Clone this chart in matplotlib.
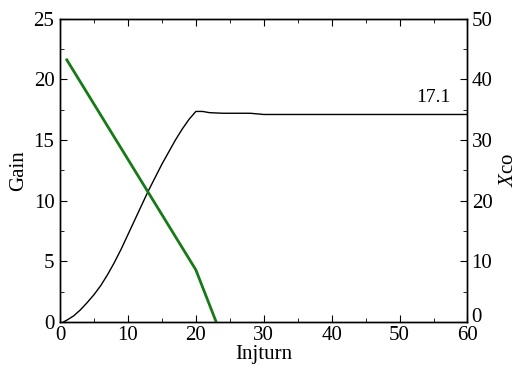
import numpy as np
import matplotlib
matplotlib.use("Agg")
import matplotlib.pyplot as plt
import matplotlib.transforms as mtransforms
from matplotlib.ticker import MultipleLocator

plt.rcParams['font.family'] = ['Liberation Serif', 'DejaVu Serif']
plt.rcParams['mathtext.fontset'] = 'custom'
plt.rcParams['mathtext.it'] = 'Liberation Serif:italic'
plt.rcParams['mathtext.rm'] = 'Liberation Serif'

# --- data ---
gain_x = [0.5, 1, 2, 3, 4, 5, 6, 7, 8, 9, 10, 11, 12, 13, 14, 15, 16, 17, 18, 19, 20,
          21, 22, 24, 26, 28, 30, 35, 40, 50, 60]
gain_y = [0.0, 0.15, 0.5, 1.0, 1.6, 2.25, 3.0, 3.9, 4.9, 6.0, 7.2, 8.4, 9.6, 10.8, 11.9,
          13.0, 14.0, 15.0, 15.9, 16.7, 17.35, 17.35, 17.25, 17.2, 17.2, 17.2, 17.1,
          17.1, 17.1, 17.1, 17.1]

xco_x = [1, 20, 23]
xco_y = [43.2, 8.6, 0.0]

fig = plt.figure(figsize=(5.2, 3.72), dpi=100)
ax = fig.add_axes([0.1154, 0.1344, 0.7836, 0.8156])
ax2 = ax.twinx()

ax.plot(gain_x, gain_y, color='black', lw=1.0)
ax2.plot(xco_x, xco_y, color='#167a16', lw=2.0)

ax.set_xlim(0, 60)
ax.set_ylim(0, 25)
ax2.set_ylim(0, 50)

ax.xaxis.set_major_locator(MultipleLocator(10))
ax.xaxis.set_minor_locator(MultipleLocator(5))
ax.yaxis.set_major_locator(MultipleLocator(5))
ax.yaxis.set_minor_locator(MultipleLocator(2.5))
ax2.yaxis.set_major_locator(MultipleLocator(10))
ax2.yaxis.set_minor_locator(MultipleLocator(5))

ax.tick_params(axis='both', which='both', direction='in', labelsize=15)
ax.tick_params(axis='x', which='both', top=True, pad=3)
ax.tick_params(axis='y', which='both', pad=4)
ax.tick_params(which='major', length=5)
ax.tick_params(which='minor', length=3)
ax2.tick_params(axis='y', which='both', direction='in', labelsize=15, pad=3)
ax2.tick_params(which='major', length=5)
ax2.tick_params(which='minor', length=3)

for a in (ax, ax2):
    for s in a.spines.values():
        s.set_linewidth(1.0)

ax.set_xlabel('Injturn', fontsize=15, labelpad=0)
ax.set_ylabel('Gain', fontsize=15, labelpad=4)
ax2.set_ylabel('$X$co', fontsize=15, labelpad=5)

ax.text(55, 18.5, '17.1', fontsize=14, ha='center', va='center')

# the right-hand "0" sits a little above the corner, clear of the "60"
fig.canvas.draw()
lift = mtransforms.ScaledTranslation(0, 5 / 72, fig.dpi_scale_trans)
for lbl in ax2.get_yticklabels():
    if lbl.get_text() == '0':
        lbl.set_transform(lbl.get_transform() + lift)

fig.savefig('out.png', dpi=100)
